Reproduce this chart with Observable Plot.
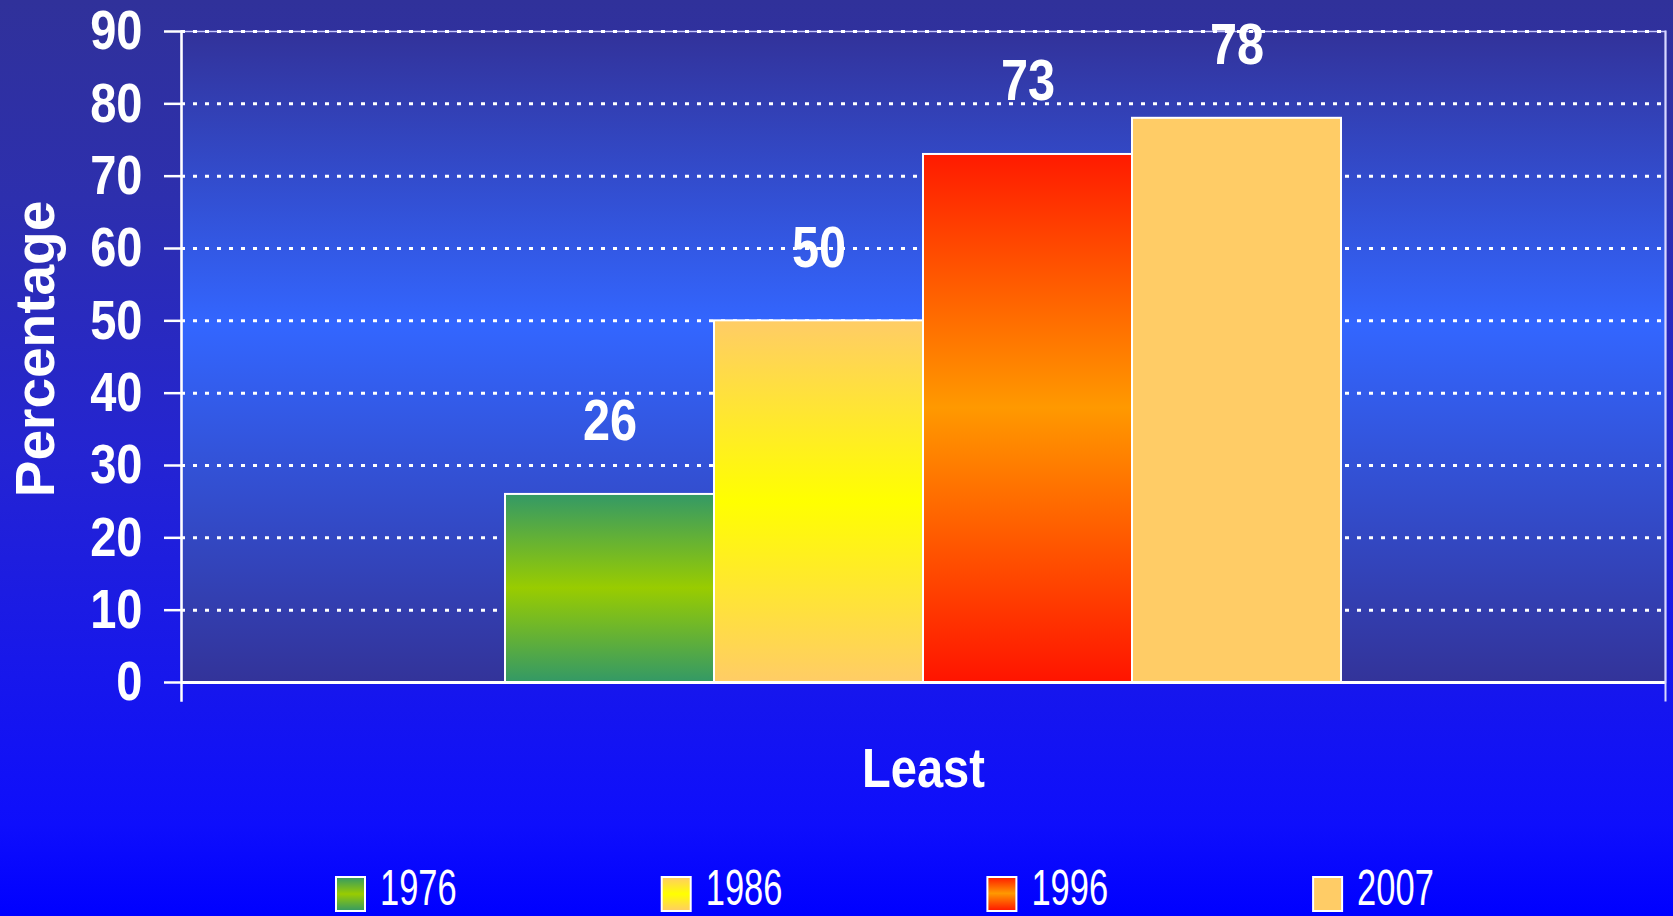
<!DOCTYPE html>
<html>
<head>
<meta charset="utf-8">
<script src="https://cdn.jsdelivr.net/npm/d3@7"></script>
<script src="https://cdn.jsdelivr.net/npm/@observablehq/plot@0.6"></script>
<style>
html, body { margin: 0; padding: 0; }
body {
  width: 1673px; height: 916px; overflow: hidden;
  background: linear-gradient(to bottom, #30319a 0%, #2d2fae 22%, #2424d2 50%, #1818ea 72%, #0e0efc 90%, #0000ff 100%);
  font-family: "Liberation Sans", Arial, sans-serif;
}
#chart svg, #legend svg { display: block; }
</style>
</head>
<body>
<svg width="0" height="0" style="position:absolute">
  <defs>
    <linearGradient id="plotBg" x1="0" y1="0" x2="0" y2="1">
      <stop offset="0" stop-color="#32329a"/>
      <stop offset="0.45" stop-color="#3366ff"/>
      <stop offset="1" stop-color="#333399"/>
    </linearGradient>
    <linearGradient id="g1976" x1="0" y1="0" x2="0" y2="1">
      <stop offset="0" stop-color="#339966"/>
      <stop offset="0.5" stop-color="#99cc00"/>
      <stop offset="1" stop-color="#339966"/>
    </linearGradient>
    <linearGradient id="g1986" x1="0" y1="0" x2="0" y2="1">
      <stop offset="0" stop-color="#ffcc66"/>
      <stop offset="0.5" stop-color="#ffff00"/>
      <stop offset="1" stop-color="#ffcc66"/>
    </linearGradient>
    <linearGradient id="g1996" x1="0" y1="0" x2="0" y2="1">
      <stop offset="0" stop-color="#ff1a00"/>
      <stop offset="0.48" stop-color="#ff9900"/>
      <stop offset="1" stop-color="#ff1400"/>
    </linearGradient>
    <linearGradient id="g2007" x1="0" y1="0" x2="0" y2="1">
      <stop offset="0" stop-color="#ffcc66"/>
      <stop offset="1" stop-color="#ffcc66"/>
    </linearGradient>
  </defs>
</svg>
<div id="chart"></div>
<div id="legend"></div>
<script>
const category = "Least";
const years = ["1976", "1986", "1996", "2007"];
const values = [26, 50, 73, 78];
const yTicks = [0, 10, 20, 30, 40, 50, 60, 70, 80, 90];
const yLabel = "Percentage";
const gradientIds = ["g1976", "g1986", "g1996", "g2007"];

const data = years.map((year, i) => ({year, value: values[i]}));

const chart = Plot.plot({
  width: 1673,
  height: 860,
  marginLeft: 181,
  marginRight: 8,
  marginTop: 31,
  marginBottom: 178,
  style: {
    background: "transparent",
    color: "white",
    fontFamily: '"Liberation Sans", Arial, sans-serif',
    fontWeight: "bold",
    overflow: "visible"
  },
  x: {domain: years, paddingInner: 0, paddingOuter: 1.546, axis: null},
  y: {domain: [0, 90]},
  color: {domain: years, range: gradientIds.map(id => `url(#${id})`)},
  marks: [
    Plot.frame({fill: "url(#plotBg)", stroke: "#c8c8ff", strokeWidth: 1.5}),
    Plot.gridY(yTicks.slice(1), {stroke: "white", strokeOpacity: 1, strokeWidth: 3, strokeDasharray: "4,8"}),
    Plot.barY(data, {x: "year", y: "value", fill: "year", stroke: "white", strokeWidth: 2}),
    Plot.ruleY([0], {stroke: "white", strokeWidth: 3}),
    Plot.frame({anchor: "left", insetBottom: -18, stroke: "white", strokeWidth: 2.5}),
    Plot.frame({anchor: "right", insetBottom: -18, stroke: "#d8d8ff", strokeWidth: 2}),
    Plot.axisY(yTicks, {tickSize: 17, tickPadding: 22, fontSize: 56, strokeWidth: 2.5, label: null}),
    Plot.text(data, {x: "year", y: "value", text: d => String(d.value), dy: -54, lineAnchor: "bottom", fontSize: 58, fill: "white"}),
    Plot.text([category], {frameAnchor: "bottom", dy: 65, lineAnchor: "top", fontSize: 56, fill: "white"}),
    Plot.text([yLabel], {frameAnchor: "left", rotate: -90, textAnchor: "middle", dx: -128, dy: -8, lineAnchor: "bottom", fontSize: 55, fill: "white"})
  ]
});

document.getElementById("chart").append(chart);

// Condense the narrow-looking labels horizontally (the original uses a compressed face)
const sx = 0.84;
d3.select(chart).selectAll("text").each(function() {
  if (this.textContent === yLabel) return;
  const bb = this.getBBox();
  const anchor = getComputedStyle(this).textAnchor;
  const ax = anchor === "end" ? bb.x + bb.width : anchor === "middle" ? bb.x + bb.width / 2 : bb.x;
  const t = this.getAttribute("transform") || "";
  this.setAttribute("transform", `${t} translate(${ax},0) scale(${sx},1) translate(${-ax},0)`);
});

// Legend below the chart
const legend = d3.select("#legend").append("svg")
  .attr("width", 1673)
  .attr("height", 56)
  .style("overflow", "hidden");
const item = legend.selectAll("g")
  .data(years)
  .join("g")
  .attr("transform", (d, i) => `translate(${336 + i * 325.7},0)`);
item.append("rect")
  .attr("x", 0).attr("y", 17).attr("width", 29).attr("height", 34)
  .attr("fill", (d, i) => `url(#${gradientIds[i]})`)
  .attr("stroke", "white").attr("stroke-width", 2);
item.append("text")
  .attr("transform", "translate(44,45) scale(0.69,1)")
  .attr("fill", "white")
  .style("font-family", '"Liberation Sans", Arial, sans-serif')
  .style("font-size", "50px")
  .text(d => d);
</script>
</body>
</html>
